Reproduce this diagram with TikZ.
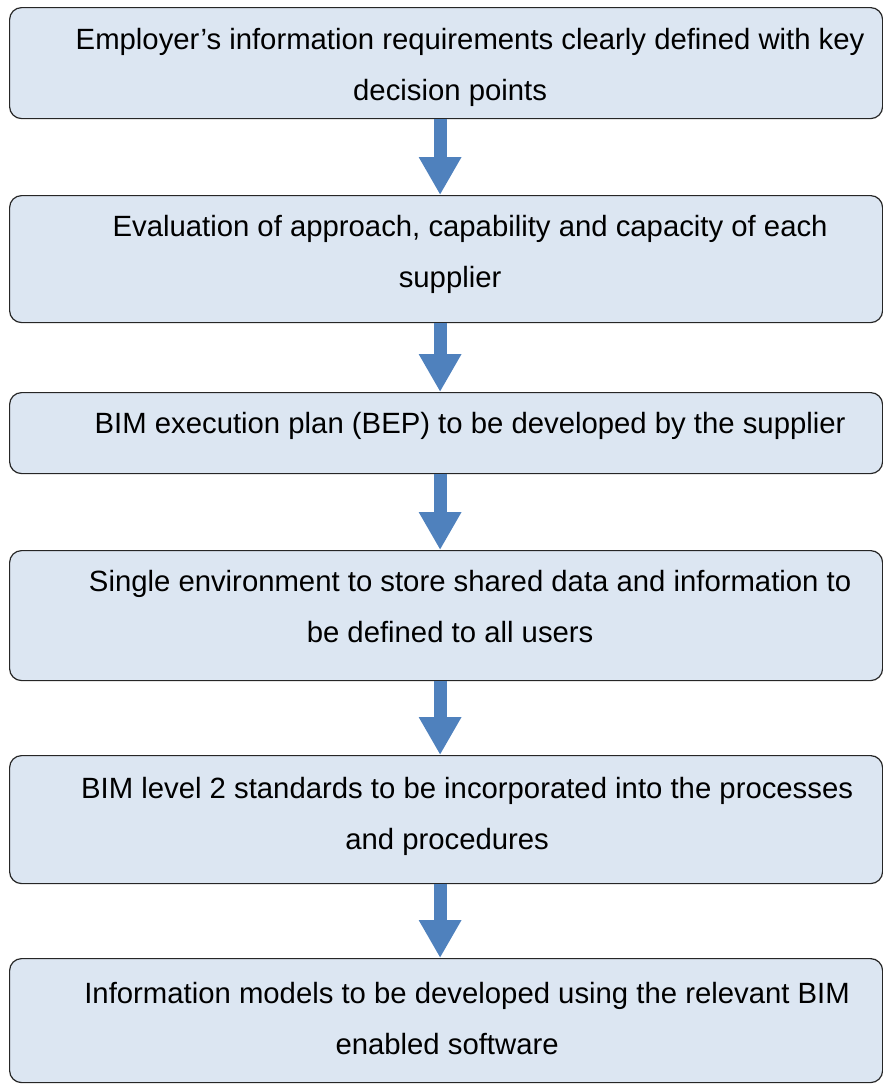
\documentclass[tikz,border=0pt]{standalone}
\usepackage{fontspec}
\setmainfont{Liberation Sans}
\usetikzlibrary{positioning,arrows.meta}
\definecolor{boxfill}{HTML}{DCE6F2}
\definecolor{arrowblue}{HTML}{4F81BD}
\tikzset{
  stagebox/.style={draw=black!85,line width=1.2pt,fill=boxfill,rounded corners=12pt,
    minimum width=873pt,inner sep=0pt,anchor=north west},
  stagetxt/.style={inner sep=0pt,align=center,font=\fontsize{29.3pt}{51pt}\selectfont},
  flow/.style={draw=arrowblue,line width=13pt,-{Triangle[width=40pt,length=38pt]},arrowblue}
}
\begin{document}
\begin{tikzpicture}[x=1pt,y=1pt]
    \useasboundingbox (0,0) rectangle (883,-1084);
    \node[stagebox,minimum height=111pt] (b1) at (9,-7) {};
    \node[stagebox,minimum height=127pt] (b2) at (9,-195) {};
    \node[stagebox,minimum height=81pt] (b3) at (9,-392) {};
    \node[stagebox,minimum height=130pt] (b4) at (9,-550) {};
    \node[stagebox,minimum height=128pt] (b5) at (9,-755) {};
    \node[stagebox,minimum height=124pt] (b6) at (9,-958) {};
    \node[stagetxt,below=21pt of b1.north,xshift=4pt] (t1)
        {\hspace*{40pt}Employer’s information requirements clearly defined with key\\decision points};
    \node[stagetxt,below=20pt of b2.north,xshift=4pt] (t2)
        {\hspace*{40pt}Evaluation of approach, capability and capacity of each\\supplier};
    \node[stagetxt,below=20pt of b3.north,xshift=4pt] (t3)
        {\hspace*{40pt}BIM execution plan (BEP) to be developed by the supplier};
    \node[stagetxt,below=20pt of b4.north,xshift=4pt] (t4)
        {\hspace*{40pt}Single environment to store shared data and information to\\be defined to all users};
    \node[stagetxt,below=22pt of b5.north,xshift=1pt] (t5)
        {\hspace*{40pt}BIM level 2 standards to be incorporated into the processes\\and procedures};
    \node[stagetxt,below=24pt of b6.north,xshift=1pt] (t6)
        {\hspace*{40pt}Information models to be developed using the relevant BIM\\enabled software};
    % arrows between the stages
    \foreach \a/\b in {b1/b2,b2/b3,b3/b4,b4/b5,b5/b6}
        \draw[flow] ([xshift=-6pt]\a.south) -- ([xshift=-6pt]\b.north);
\end{tikzpicture}
\end{document}
